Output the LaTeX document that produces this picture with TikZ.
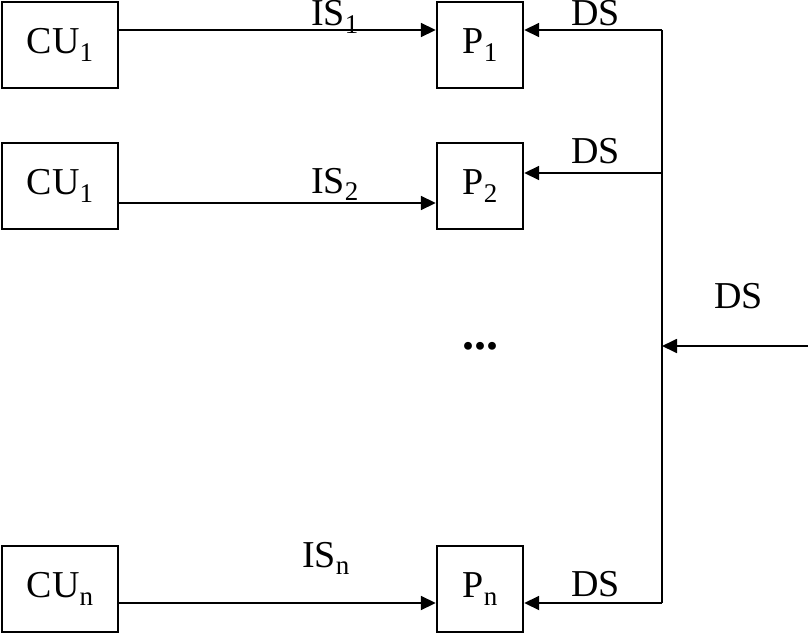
\documentclass[tikz,border=0pt]{standalone}
\usepackage{fontspec}
\setmainfont{Liberation Serif}
\usetikzlibrary{arrows.meta}
\newcommand{\mysub}[1]{\raisebox{-0.19em}{\fontsize{27}{27}\selectfont #1}}
\begin{document}
\begin{tikzpicture}[x=1pt,y=-1pt,
  box/.style={draw,line width=2.4pt,minimum height=86pt,inner sep=0pt,font=\fontsize{38}{42}\selectfont},
  cubox/.style={box,minimum width=116pt},
  pbox/.style={box,minimum width=86pt},
  lab/.style={anchor=base west,inner sep=0pt,text height=25pt,text depth=5pt,font=\fontsize{38}{42}\selectfont},
  conn/.style={line width=1.8pt,-{Triangle[length=15pt,width=14pt]}},
  wire/.style={line width=1.8pt}]
\useasboundingbox (0,0) rectangle (808,634);
% boxes
\node[cubox] (cu1) at (60,45) {CU\mysub{1}};
\node[cubox] (cu2) at (60,186) {CU\mysub{1}};
\node[cubox] (cun) at (60,589) {CU\mysub{n}};
\node[pbox] (p1) at (480,45) {P\mysub{1}};
\node[pbox] (p2) at (480,186) {P\mysub{2}};
\node[pbox] (pn) at (480,589) {P\mysub{n}};
% bus coordinates
\coordinate (bt) at (662,30);
\coordinate (b2) at (662,173);
\coordinate (bm) at (662,346);
\coordinate (bb) at (662,603);
\coordinate (in) at (808,346);
% instruction streams
\draw[conn] (cu1.east |- 0,30) -- (p1.west |- 0,30);
\draw[conn] (cu2.east |- 0,203) -- (p2.west |- 0,203);
\draw[conn] (cun.east |- 0,603) -- (pn.west |- 0,603);
% data bus
\draw[wire] (bt) -- (bb);
\draw[conn] (bt) -- (p1.east |- bt);
\draw[conn] (b2) -- (p2.east |- b2);
\draw[conn] (bb) -- (pn.east |- bb);
\draw[conn] (in) -- (bm);
% labels
\node[lab] (l1) at (311,26) {IS\mysub{1}};
\node[lab] (l2) at (311,193) {IS\mysub{2}};
\node[lab] (l3) at (302,567) {IS\mysub{n}};
\node[lab] (d1) at (571,26) {DS};
\node[lab] (d2) at (571,163) {DS};
\node[lab] (d3) at (714,308) {DS};
\node[lab] (d4) at (571,596) {DS};
\node[inner sep=0pt,font=\fontsize{48}{48}\selectfont\bfseries] (dots) at (480,346) {...};
\end{tikzpicture}
\end{document}
